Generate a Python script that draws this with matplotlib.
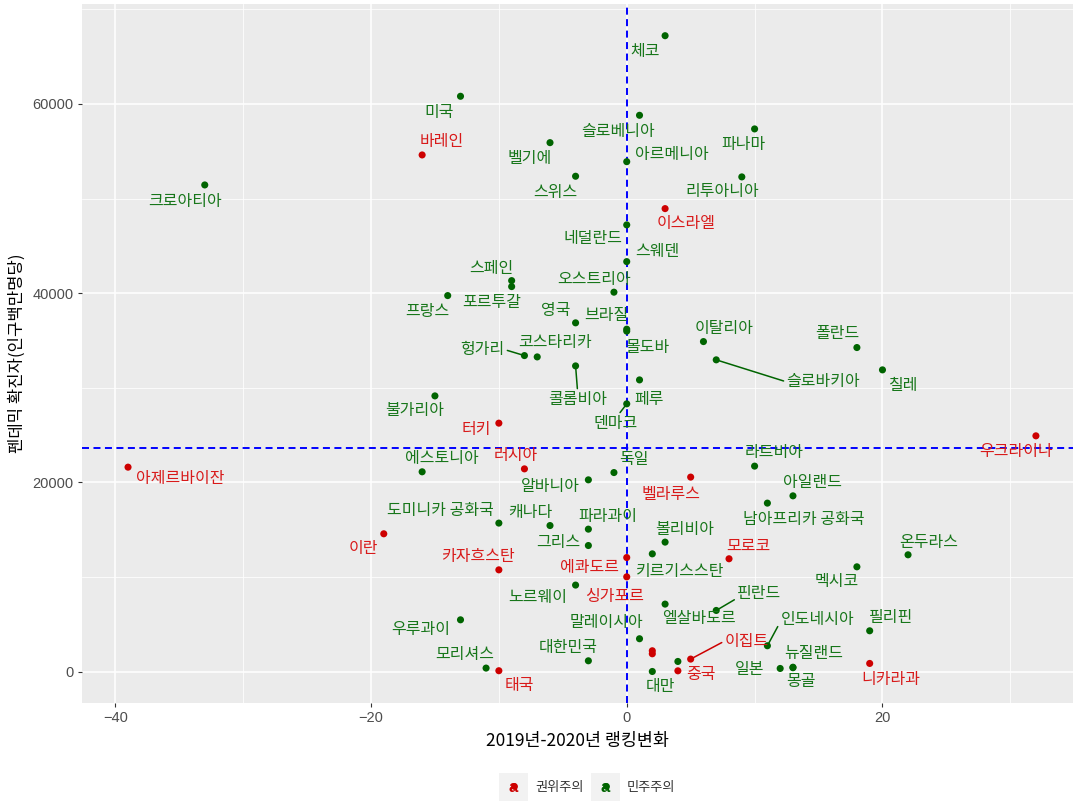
import matplotlib.pyplot as plt
from matplotlib.patches import Rectangle

plt.rcParams['font.family'] = ['Noto Sans CJK KR', 'DejaVu Sans']

# 데이터: 국가, 2019-2020 랭킹변화, 인구백만명당 확진자, 체제
countries = ['체코', '미국', '바레인', '크로아티아', '슬로베니아', '벨기에', '아르메니아',
             '파나마', '스위스', '리투아니아', '이스라엘', '네덜란드', '스웨덴', '스페인',
             '포르투갈', '오스트리아', '프랑스', '영국', '브라질', '몰도바', '헝가리',
             '코스타리카', '콜롬비아', '이탈리아', '슬로바키아', '페루', '덴마크', '불가리아',
             '터키', '폴란드', '칠레', '우크라이나', '라트비아', '아일랜드', '남아프리카 공화국',
             '아제르바이잔', '에스토니아', '러시아', '독일', '알바니아', '벨라루스',
             '도미니카 공화국', '캐나다', '파라과이', '그리스', '볼리비아', '카자흐스탄',
             '에콰도르', '싱가포르', '키르기스스탄', '모로코', '이란', '온두라스', '멕시코',
             '노르웨이', '우루과이', '엘살바도르', '핀란드', '말레이시아', '대한민국', '모리셔스',
             '태국', '대만', '중국', '이집트', '일본', '인도네시아', '뉴질랜드', '몽골', '필리핀',
             '니카라과', '', '', '']
rank_change = [3, -13, -16, -33, 1, -6, 0,
               10, -4, 9, 3, 0, 0, -9,
               -9, -1, -14, -4, 0, 0, -8,
               -7, -4, 6, 7, 1, 0, -15,
               -10, 18, 20, 32, 10, 13, 11,
               -39, -16, -8, -1, -3, 5,
               -10, -6, -3, -3, 3, -10,
               0, 0, 2, 8, -19, 22, 18,
               -4, -13, 3, 7, 1, -3, -11,
               -10, 2, 4, 5, 12, 11, 13, 13, 19,
               19, 2, 2, 4]
cases = [67210, 60810, 54610, 51440, 58800, 55910, 53900,
         57360, 52360, 52290, 48940, 47220, 43340, 41330,
         40700, 40110, 39750, 36870, 36200, 35990, 33410,
         33270, 32320, 34890, 32960, 30840, 28310, 29150,
         26270, 34260, 31900, 24930, 21730, 18590, 17820,
         21620, 21130, 21440, 21050, 20280, 20570,
         15710, 15450, 15070, 13340, 13700, 10770,
         12070, 10030, 12460, 11940, 14580, 12360, 11090,
         9160, 5490, 7150, 6480, 3490, 1160, 390,
         110, 30, 100, 1340, 350, 2750, 480, 430, 4330,
         880, 2220, 1900, 1090]
regime = ['민주주의', '민주주의', '권위주의', '민주주의', '민주주의', '민주주의', '민주주의',
          '민주주의', '민주주의', '민주주의', '권위주의', '민주주의', '민주주의', '민주주의',
          '민주주의', '민주주의', '민주주의', '민주주의', '민주주의', '민주주의', '민주주의',
          '민주주의', '민주주의', '민주주의', '민주주의', '민주주의', '민주주의', '민주주의',
          '권위주의', '민주주의', '민주주의', '권위주의', '민주주의', '민주주의', '민주주의',
          '권위주의', '민주주의', '권위주의', '민주주의', '민주주의', '권위주의',
          '민주주의', '민주주의', '민주주의', '민주주의', '민주주의', '권위주의',
          '권위주의', '권위주의', '민주주의', '권위주의', '권위주의', '민주주의', '민주주의',
          '민주주의', '민주주의', '민주주의', '민주주의', '민주주의', '민주주의', '민주주의',
          '권위주의', '민주주의', '권위주의', '권위주의', '민주주의', '민주주의', '민주주의',
          '민주주의', '민주주의', '권위주의', '권위주의', '권위주의', '민주주의']
case_ref = 23690

colors = {'권위주의': '#CD0000', '민주주의': '#006400'}
text_colors = {'권위주의': '#D81A1A', '민주주의': '#17761A'}

# 라벨 위치 (점 기준, 픽셀: 오른쪽 +, 아래 +)
label_offset = {
    '체코': (-20, 16), '미국': (-21, 16), '바레인': (20, -13), '크로아티아': (-20, 17),
    '슬로베니아': (-21, 16), '벨기에': (-20, 16), '아르메니아': (45, -7), '파나마': (-11, 16),
    '스위스': (-20, 16), '리투아니아': (-20, 15), '이스라엘': (21, 15), '네덜란드': (-34, 14),
    '스웨덴': (31, -10), '스페인': (-20, -12), '포르투갈': (-20, 16), '오스트리아': (-20, -13),
    '프랑스': (-20, 16), '영국': (-20, -12), '브라질': (-20, -14), '몰도바': (21, 16),
    '헝가리': (-42, -6), '코스타리카': (18, -14), '콜롬비아': (2, 34), '이탈리아': (21, -13),
    '슬로바키아': (107, 22), '페루': (10, 20), '덴마크': (-11, 20), '불가리아': (-20, 15),
    '터키': (-23, 6), '폴란드': (-20, -14), '칠레': (21, 16), '우크라이나': (-20, 16),
    '라트비아': (20, -14), '아일랜드': (20, -13), '남아프리카 공화국': (36, 16),
    '아제르바이잔': (52, 11), '에스토니아': (20, -13), '러시아': (-9, -13), '독일': (20, -13),
    '알바니아': (-38, 7), '벨라루스': (-20, 17), '도미니카 공화국': (-58, -13),
    '캐나다': (-20, -13), '파라과이': (20, -13), '그리스': (-30, -3), '볼리비아': (20, -13),
    '카자흐스탄': (-21, -13), '에콰도르': (-37, 10), '싱가포르': (-12, 20),
    '키르기스스탄': (28, 18), '모로코': (19, -12), '이란': (-20, 15), '온두라스': (21, -12),
    '멕시코': (-20, 15), '노르웨이': (-38, 12), '우루과이': (-40, 10), '엘살바도르': (34, 14),
    '핀란드': (43, -17), '말레이시아': (-33, -16), '대한민국': (-20, -13), '모리셔스': (-21, -14),
    '태국': (21, 15), '대만': (8, 15), '중국': (23, 4), '이집트': (56, -18), '일본': (-31, 1),
    '인도네시아': (50, -26), '뉴질랜드': (21, -14), '몽골': (8, 14), '필리핀': (21, -13),
    '니카라과': (21, 16),
}
segment_relpos = {
    '헝가리': (1.0, 0.5), '콜롬비아': (0.5, 1.0), '덴마크': (0.55, 1.0),
    '슬로바키아': (0.0, 0.5), '핀란드': (0.05, 0.3), '이집트': (0.0, 0.5),
    '인도네시아': (0.0, 0.4),
}

fig = plt.figure(figsize=(10.73, 8.01), dpi=100)
ax = fig.add_axes([82 / 1073, 1 - 703 / 801, 1 - 82 / 1073, 699 / 801])
ax.set_facecolor('#EBEBEB')
for s in ax.spines.values():
    s.set_visible(False)

ax.set_xlim(-42.6, 34.9)
ax.set_ylim(-3300, 70560)
ax.set_xticks([-40, -20, 0, 20])
ax.set_xticks([-30, -10, 10, 30], minor=True)
ax.set_yticks([0, 20000, 40000, 60000])
ax.set_yticks([10000, 30000, 50000, 70000], minor=True)
ax.grid(True, which='major', color='white', lw=1.1)
ax.grid(True, which='minor', color='white', lw=0.55)
ax.set_axisbelow(True)
ax.tick_params(which='major', length=3, width=0.8, color='#333333',
               labelsize=10.5, labelcolor='#4D4D4D', pad=3)
ax.tick_params(which='minor', length=0)
for lbl in ax.get_xticklabels() + ax.get_yticklabels():
    lbl.set_fontfamily('Liberation Sans')

ax.axvline(0, color='blue', lw=1.4, ls=(0, (3.6, 2.3)), zorder=2)
ax.axhline(case_ref, color='blue', lw=1.4, ls=(0, (3.6, 2.3)), zorder=2)

pt_colors = [colors[r] for r in regime]
ax.scatter(rank_change, cases, c=pt_colors, s=26, zorder=3, linewidths=0)

for name, x, y, r in zip(countries, rank_change, cases, regime):
    if not name:
        continue
    col = text_colors[r]
    dx, dy = label_offset[name]
    kw = {}
    if name in segment_relpos:
        kw['arrowprops'] = dict(arrowstyle='-', color=colors[r], lw=1.1, shrinkA=0,
                                shrinkB=2, relpos=segment_relpos[name])
    ax.annotate(name, (x, y), xytext=(dx, -dy), textcoords='offset pixels',
                ha='center', va='center', color=col, fontsize=11.5, zorder=4, **kw)

ax.set_xlabel('2019년-2020년 랭킹변화', fontsize=12.5, color='black', labelpad=5)
ax.set_ylabel('펜데믹 확진자(인구백만명당)', fontsize=12, color='black', labelpad=5)

# 범례
lg = fig.add_axes([0, 0, 1, 1], zorder=-1)
lg.set_xlim(0, 1073)
lg.set_ylim(801, 0)
lg.axis('off')
keys = [('권위주의', 499), ('민주주의', 591)]
for lab, kx in keys:
    lg.add_patch(Rectangle((kx, 773), 29, 28, color='#F2F2F2', lw=0))
    lg.text(kx + 14.5, 788, 'a', color=colors[lab], fontsize=12, fontweight='bold',
            ha='center', va='center', family='Liberation Sans')
    lg.scatter([kx + 14.5], [786], color=colors[lab], s=24, linewidths=0)
    lg.text(kx + 36, 788, lab, color='#333333', fontsize=9.5, ha='left', va='center')

fig.savefig('out.png', dpi=100)
